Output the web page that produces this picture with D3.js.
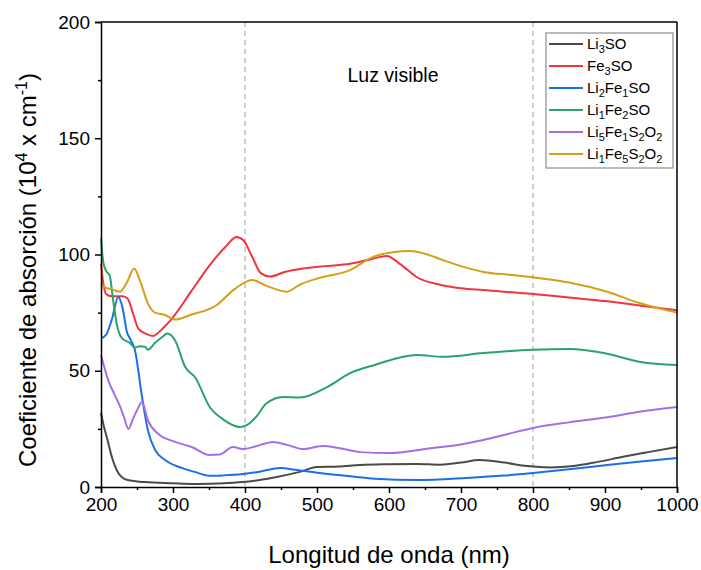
<!DOCTYPE html>
<html><head><meta charset="utf-8">
<script src="https://cdn.jsdelivr.net/npm/d3@7"></script>
<style>body{margin:0;background:#fff;font-family:Arial,"Liberation Sans",sans-serif}</style>
</head><body><svg id="c" width="701" height="570"></svg>
<script>
const seriesNames = ["Li3SO","Fe3SO","Li2Fe1SO","Li1Fe2SO","Li5Fe1S2O2","Li1Fe5S2O2"];
const seriesColors = ["#4a4a4a","#f5333f","#1c6fe8","#2aa36b","#a66ee6","#d4a017"];
const xTicks = [200,300,400,500,600,700,800,900,1000];
const yTicks = [0,50,100,150,200];

const li3SO = [[200,31.8],[204,26],[208,21.5],[215,13],[220,8.5],[224,6],[230,4],[237,3],[261,2.1],[300,1.6],[330,1.3],[360,1.5],[397,2.1],[420,3],[444,4.3],[476,6.5],[500,8.6],[530,8.8],[560,9.5],[600,9.8],[639,9.9],[671,9.6],[700,10.5],[726,11.6],[760,10.5],[792,9],[824,8.4],[856,9],[890,10.8],[925,13],[960,15],[1000,17.2]];
const fe3SO = [[200,96],[203,88],[207,83],[215,82],[230,82],[237,81],[245,74],[252,68],[262,66],[272,65],[285,68],[300,73],[325,84],[350,95],[375,104],[388,107.5],[398,106],[410,99],[422,92],[435,90.5],[455,92.5],[480,94],[510,95],[546,96],[575,98],[597,99.4],[615,96],[640,90],[671,87],[700,85.5],[731,84.7],[800,83],[850,81.5],[900,80],[950,78],[1000,76]];
const li2Fe1SO = [[200,64],[207,65.4],[215,72],[224,81.7],[230,77],[236,66.7],[240,64],[247,59],[257,38.7],[265,24.5],[275,16],[289,11.6],[312,8.2],[330,6.5],[351,4.8],[370,5],[397,5.6],[420,6.6],[449,8.2],[472,7.3],[504,6],[546,4.6],[580,3.6],[639,3],[708,3.9],[760,4.9],[800,6],[850,7.6],[903,9.5],[950,11],[1000,12.5]];
const li1Fe2SO = [[200,107],[203,97],[207,93],[212,91],[217,80],[222,70],[229,64],[240,62],[247,60],[254,60.5],[261,60.3],[265,59],[275,62],[285,64.5],[292,66],[303,63],[317,51.6],[331,47],[351,34.4],[370,29],[393,25.8],[403,26.7],[415,30],[430,36],[453,38.7],[476,38.5],[514,43],[546,49],[580,52.5],[639,56.8],[675,56],[731,57.6],[800,59],[851,59.4],[900,57.5],[949,53.8],[1000,52.5]];
const li5Fe1S2O2 = [[200,56.8],[210,46],[219,39.6],[226,35],[232,30],[238,25],[244,29],[250,33],[257,36.6],[265,28.8],[279,23],[303,19.4],[326,17.2],[351,13.8],[365,14],[383,17.2],[397,16.3],[415,17.5],[439,19.4],[460,18],[481,16.3],[508,17.6],[530,16.8],[560,15],[601,14.6],[661,16.8],[700,18.3],[731,20.2],[765,22.8],[800,25.4],[850,27.8],[903,30],[950,32.5],[1000,34.4]];
const li1Fe5S2O2 = [[200,87.6],[205,86],[215,85],[226,84],[236,88],[246,94],[255,88],[265,79],[275,75],[289,74],[303,72],[324,74],[361,78.3],[385,85],[410,89],[430,86.5],[458,84],[476,87],[504,90],[546,93.3],[578,99],[605,101],[629,101.5],[650,100.3],[675,97.6],[700,95],[731,92.5],[770,91.2],[810,89.8],[850,88],[903,84],[949,79],[1000,75]];

const allSeries = [li3SO, fe3SO, li2Fe1SO, li1Fe2SO, li5Fe1S2O2, li1Fe5S2O2];

const svg = d3.select("#c");
const L=101, R=677, T=22, B=487;
const x = d3.scaleLinear().domain([200,1000]).range([L,R]);
const y = d3.scaleLinear().domain([0,200]).range([B,T]);

[400,800].forEach(v=>{
  svg.append("line").attr("x1",x(v)).attr("x2",x(v)).attr("y1",T).attr("y2",B)
    .attr("stroke","#a0a0a0").attr("stroke-width",1).attr("stroke-dasharray","5,4");
});

const line = d3.line().x(d=>x(d[0])).y(d=>y(d[1])).curve(d3.curveMonotoneX);
allSeries.forEach((s,i)=>{
  svg.append("path").datum(s).attr("d",line).attr("fill","none")
    .attr("stroke",seriesColors[i]).attr("stroke-width",2);
});

svg.append("line").attr("x1",L).attr("x2",R).attr("y1",T).attr("y2",T).attr("stroke","#000").attr("stroke-width",1.5);
svg.append("line").attr("x1",R).attr("x2",R).attr("y1",T).attr("y2",B).attr("stroke","#000").attr("stroke-width",1.5);

const xAxis = svg.append("g").attr("transform",`translate(0,${B})`)
  .call(d3.axisBottom(x).tickValues(xTicks).tickSize(6).tickPadding(5).tickFormat(d3.format("d")));
const xMinor = svg.append("g").attr("transform",`translate(0,${B})`)
  .call(d3.axisBottom(x).tickValues(d3.range(250,1000,100)).tickSize(3).tickFormat(""));
const yAxis = svg.append("g").attr("transform",`translate(${L},0)`)
  .call(d3.axisLeft(y).tickValues(yTicks).tickSize(6).tickPadding(5).tickFormat(d3.format("d")));
const yMinor = svg.append("g").attr("transform",`translate(${L},0)`)
  .call(d3.axisLeft(y).tickValues([25,75,125,175]).tickSize(3).tickFormat(""));
[xAxis,xMinor,yAxis,yMinor].forEach(g=>{
  g.selectAll("path").attr("stroke","#000").attr("stroke-width",1.5);
  g.selectAll("line").attr("stroke","#000").attr("stroke-width",1.5);
  g.selectAll("text").attr("font-family","Arial, 'Liberation Sans', sans-serif").attr("font-size",19).attr("fill","#000");
});
xMinor.select("path").remove(); yMinor.select("path").remove();

svg.append("text").attr("x",(L+R)/2).attr("y",563).attr("text-anchor","middle")
  .attr("font-size",24).attr("fill","#000").text("Longitud de onda (nm)");
const yt = svg.append("text").attr("transform",`translate(36,270) rotate(-90)`)
  .attr("text-anchor","middle").attr("font-size",24).attr("fill","#000");
yt.append("tspan").text("Coeficiente de absorción (10");
yt.append("tspan").attr("dy",-9).attr("font-size",16).text("4");
yt.append("tspan").attr("dy",9).text(" x cm");
yt.append("tspan").attr("dy",-9).attr("font-size",16).text("-1");
yt.append("tspan").attr("dy",9).text(")");

svg.append("text").attr("x",393).attr("y",82).attr("text-anchor","middle")
  .attr("font-size",19.5).attr("fill","#000").text("Luz visible");

const lg = svg.append("g");
lg.append("rect").attr("x",546).attr("y",33).attr("width",127).attr("height",135)
  .attr("fill","#fff").attr("stroke","#777").attr("stroke-width",1);
const parts = [
  [["Li",""],["3","s"],["SO",""]],
  [["Fe",""],["3","s"],["SO",""]],
  [["Li",""],["2","s"],["Fe",""],["1","s"],["SO",""]],
  [["Li",""],["1","s"],["Fe",""],["2","s"],["SO",""]],
  [["Li",""],["5","s"],["Fe",""],["1","s"],["S",""],["2","s"],["O",""],["2","s"]],
  [["Li",""],["1","s"],["Fe",""],["5","s"],["S",""],["2","s"],["O",""],["2","s"]]
];
seriesNames.forEach((n,i)=>{
  const yy = 44 + i*22;
  lg.append("line").attr("x1",549).attr("x2",583).attr("y1",yy).attr("y2",yy)
    .attr("stroke",seriesColors[i]).attr("stroke-width",2);
  const t = lg.append("text").attr("x",587).attr("y",yy+5).attr("font-size",15).attr("fill","#000");
  let sub=false;
  parts[i].forEach(p=>{
    const ts = t.append("tspan").text(p[0]);
    if(p[1]==="s"){ ts.attr("font-size",11).attr("dy", sub?0:4); sub=true; }
    else { ts.attr("dy", sub?-4:0); sub=false; }
  });
});
</script></body></html>
